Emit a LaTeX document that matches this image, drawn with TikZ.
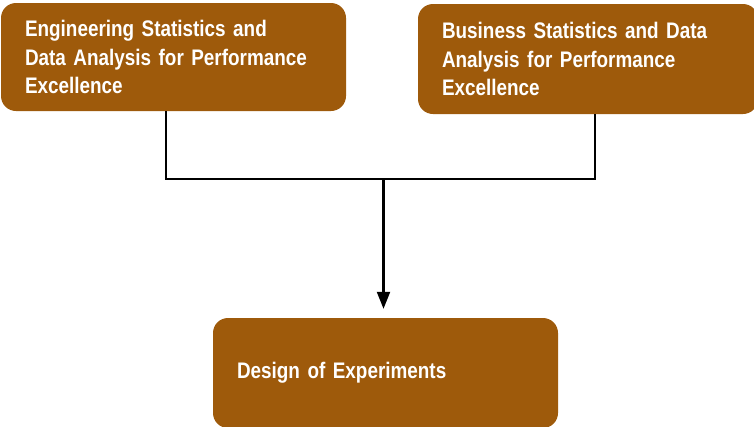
\documentclass[tikz,border=0pt]{standalone}
\usepackage{fontspec}
\setmainfont[FakeStretch=0.84,WordSpace=0.5]{Liberation Sans}
\usetikzlibrary{arrows.meta}
\definecolor{boxbrown}{HTML}{9E5A0B}
\begin{document}
\begin{tikzpicture}[x=1pt,y=-1pt,
  brownbox/.style={fill=boxbrown, draw=none, rounded corners=15pt, text=white,
    font=\bfseries\fontsize{22.5}{28.5}\selectfont, align=left, inner xsep=24pt, inner ysep=0pt},
  link/.style={line width=2.2pt, draw=black},
  linkarrow/.style={link, -{Triangle[length=17pt,width=13pt]}}]
\useasboundingbox (0,0) rectangle (754,426);
\node[brownbox, minimum width=345pt, minimum height=108pt, text width=297pt] (eng) at (173.5,57)
  {Engineering Statistics and\\Data Analysis for Performance\\Excellence};
\node[brownbox, minimum width=340pt, minimum height=110pt, text width=292pt] (bus) at (588,59)
  {Business Statistics and Data\\Analysis for Performance\\Excellence};
\node[brownbox, minimum width=345pt, minimum height=110pt, text width=297pt] (doe) at (385.5,373)
  {Design of Experiments};
\coordinate (jl) at (166,179);
\coordinate (jr) at (595,179);
\coordinate (jm) at (383.5,179);
\draw[link] (eng.south -| jl) -- (jl) -- (jr) -- (bus.south -| jr);
\draw[linkarrow] (jm) -- ([yshift=9pt]doe.north -| jm);
\end{tikzpicture}
\end{document}
